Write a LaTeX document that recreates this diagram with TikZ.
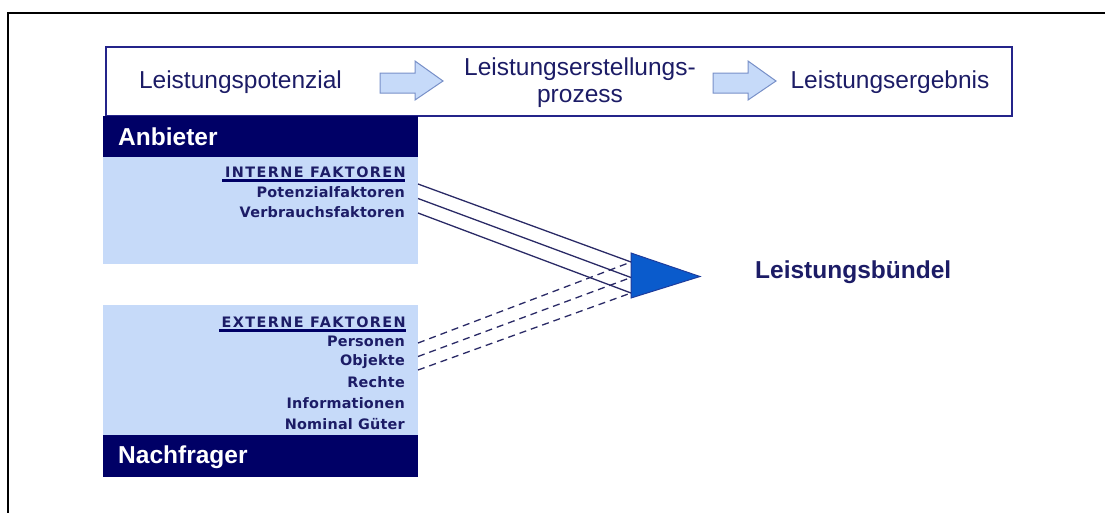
\documentclass[tikz,border=0pt]{standalone}
\usepackage{fontspec}
\setmainfont{Liberation Sans}
\newfontfamily\dvb{DejaVu Sans Bold}[LetterSpace=1.5]
\newfontfamily\dvbcaps{DejaVu Sans Bold}[LetterSpace=10]
\definecolor{navytext}{HTML}{1C1C66}
\definecolor{navyhead}{HTML}{000066}
\definecolor{lightblue}{HTML}{C6DAF9}
\definecolor{boxborder}{HTML}{24248A}
\definecolor{arrowborder}{HTML}{7890C8}
\definecolor{trifill}{HTML}{0A5BCC}
\definecolor{trborder}{HTML}{1E3C9C}
\definecolor{linecol}{HTML}{2A2A66}
\begin{document}
\begin{tikzpicture}[x=1pt,y=-1pt,
  toptext/.style={font=\fontsize{24.5}{27}\selectfont, text=navytext, inner sep=0pt, align=center},
  headtext/.style={font=\fontsize{24.5}{27}\selectfont\bfseries, text=white, inner sep=0pt, anchor=west},
  item/.style={font=\dvb\fontsize{14.4}{16}\selectfont, text=navytext, inner sep=0pt, anchor=east},
  capitem/.style={font=\dvbcaps\fontsize{14.4}{16}\selectfont, text=navytext, inner sep=0pt, anchor=east},
  blockarrow/.style={fill=lightblue, draw=arrowborder, line width=1pt, line join=miter},
  solidcon/.style={draw=linecol, line width=1.3pt},
  dashcon/.style={draw=linecol, line width=1.3pt, dash pattern=on 7pt off 5pt}]
\useasboundingbox (0,0) rectangle (1105,512);
% outer frame
\draw[line width=2pt, black] (1106,12.7) -- (8,12.7) -- (8,513);
% top process bar
\draw[draw=boxborder, line width=1.6pt] (106,47) rectangle (1012,116);
\node[toptext] (pot) at (240.5,82) {Leistungspotenzial};
\node[toptext] (proz) at (580,83) {Leistungserstellungs-\\prozess};
\node[toptext] (erg) at (890,82) {Leistungsergebnis};
\draw[blockarrow] (380,73) -- (415,73) -- (415,61) -- (443,81) -- (415,100) -- (415,93) -- (380,93) -- cycle;
\draw[blockarrow] (713,73) -- (748,73) -- (748,61) -- (776,81) -- (748,100) -- (748,93) -- (713,93) -- cycle;
% Anbieter block
\fill[navyhead] (103,116) rectangle (418,157);
\fill[lightblue] (103,157) rectangle (418,264);
\node[headtext] (anb) at (118,137) {Anbieter};
\node[capitem] (intern) at (406,172) {INTERNE FAKTOREN};
\draw[navyhead, line width=3pt] (222,180) -- (405,180);
\node[item] (potf) at (405,192.5) {Potenzialfaktoren};
\node[item] (verb) at (405,212.5) {Verbrauchsfaktoren};
% Nachfrager block
\fill[lightblue] (103,305) rectangle (418,435);
\fill[navyhead] (103,435) rectangle (418,477);
\node[headtext] (nach) at (118,457) {Nachfrager};
\node[capitem] (extern) at (406,322) {EXTERNE FAKTOREN};
\draw[navyhead, line width=3pt] (219,330.5) -- (406,330.5);
\node[item] (pers) at (405,341) {Personen};
\node[item] (obj) at (405,362) {Objekte};
\node[item] (rech) at (405,382) {Rechte};
\node[item] (info) at (405,403) {Informationen};
\node[item] (nom) at (405,424) {Nominal Güter};
% triangle
\coordinate (ta) at (631,253);
\coordinate (tb) at (631,298);
\coordinate (tc) at (700,276.5);
\coordinate (e1) at (631,262);
\coordinate (e2) at (631,277.5);
\coordinate (e3) at (631,293);
\coordinate (s1) at (418,184);
\coordinate (s2) at (418,198.5);
\coordinate (s3) at (418,213);
\coordinate (d1) at (418,343);
\coordinate (d2) at (418,356.5);
\coordinate (d3) at (418,370);
\draw[solidcon] (s1) -- (e1);
\draw[solidcon] (s2) -- (e2);
\draw[solidcon] (s3) -- (e3);
\draw[dashcon] (d1) -- (e1);
\draw[dashcon] (d2) -- (e2);
\draw[dashcon] (d3) -- (e3);
\draw[fill=trifill, draw=trborder, line width=1pt, line join=miter] (ta) -- (tc) -- (tb) -- cycle;
\node[font=\fontsize{24.5}{27}\selectfont\bfseries, text=navytext, inner sep=0pt, anchor=west] (lb) at (755,272) {Leistungsbündel};
\end{tikzpicture}
\end{document}
